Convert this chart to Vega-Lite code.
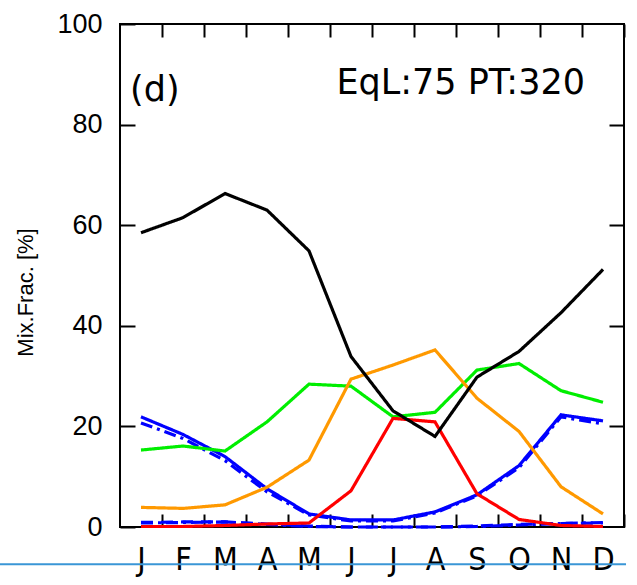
{
  "$schema": "https://vega.github.io/schema/vega-lite/v6.json",
  "autosize": "none",
  "width": 504,
  "height": 503,
  "padding": {"left": 120, "top": 24, "right": 13, "bottom": 58},
  "config": {
    "view": {"stroke": "black", "strokeWidth": 2},
    "font": "Liberation Sans",
    "axis": {"grid": false, "domain": false, "tickColor": "black", "tickWidth": 2, "labelColor": "black", "titleColor": "black"}
  },
  "datasets": {
    "series": [
      {"month": 1, "value": 0.9, "series": "blue_lo_dash"},
      {"month": 2, "value": 1.0, "series": "blue_lo_dash"},
      {"month": 3, "value": 1.0, "series": "blue_lo_dash"},
      {"month": 4, "value": 0.6, "series": "blue_lo_dash"},
      {"month": 5, "value": 0.2, "series": "blue_lo_dash"},
      {"month": 6, "value": 0.0, "series": "blue_lo_dash"},
      {"month": 7, "value": 0.0, "series": "blue_lo_dash"},
      {"month": 8, "value": 0.0, "series": "blue_lo_dash"},
      {"month": 9, "value": 0.2, "series": "blue_lo_dash"},
      {"month": 10, "value": 0.5, "series": "blue_lo_dash"},
      {"month": 11, "value": 0.7, "series": "blue_lo_dash"},
      {"month": 12, "value": 0.8, "series": "blue_lo_dash"},
      {"month": 1, "value": 0.8, "series": "blue_lo_dashdot"},
      {"month": 2, "value": 0.9, "series": "blue_lo_dashdot"},
      {"month": 3, "value": 1.0, "series": "blue_lo_dashdot"},
      {"month": 4, "value": 0.5, "series": "blue_lo_dashdot"},
      {"month": 5, "value": 0.1, "series": "blue_lo_dashdot"},
      {"month": 6, "value": 0.0, "series": "blue_lo_dashdot"},
      {"month": 7, "value": 0.0, "series": "blue_lo_dashdot"},
      {"month": 8, "value": 0.0, "series": "blue_lo_dashdot"},
      {"month": 9, "value": 0.1, "series": "blue_lo_dashdot"},
      {"month": 10, "value": 0.4, "series": "blue_lo_dashdot"},
      {"month": 11, "value": 0.7, "series": "blue_lo_dashdot"},
      {"month": 12, "value": 0.9, "series": "blue_lo_dashdot"},
      {"month": 1, "value": 20.7, "series": "blue_hi_dashdot"},
      {"month": 2, "value": 17.6, "series": "blue_hi_dashdot"},
      {"month": 3, "value": 13.2, "series": "blue_hi_dashdot"},
      {"month": 4, "value": 7.0, "series": "blue_hi_dashdot"},
      {"month": 5, "value": 2.4, "series": "blue_hi_dashdot"},
      {"month": 6, "value": 1.2, "series": "blue_hi_dashdot"},
      {"month": 7, "value": 1.2, "series": "blue_hi_dashdot"},
      {"month": 8, "value": 2.8, "series": "blue_hi_dashdot"},
      {"month": 9, "value": 6.2, "series": "blue_hi_dashdot"},
      {"month": 10, "value": 11.8, "series": "blue_hi_dashdot"},
      {"month": 11, "value": 21.9, "series": "blue_hi_dashdot"},
      {"month": 12, "value": 20.5, "series": "blue_hi_dashdot"},
      {"month": 1, "value": 21.9, "series": "blue_hi"},
      {"month": 2, "value": 18.4, "series": "blue_hi"},
      {"month": 3, "value": 14.0, "series": "blue_hi"},
      {"month": 4, "value": 7.6, "series": "blue_hi"},
      {"month": 5, "value": 2.6, "series": "blue_hi"},
      {"month": 6, "value": 1.4, "series": "blue_hi"},
      {"month": 7, "value": 1.4, "series": "blue_hi"},
      {"month": 8, "value": 3.0, "series": "blue_hi"},
      {"month": 9, "value": 6.4, "series": "blue_hi"},
      {"month": 10, "value": 12.2, "series": "blue_hi"},
      {"month": 11, "value": 22.3, "series": "blue_hi"},
      {"month": 12, "value": 21.1, "series": "blue_hi"},
      {"month": 1, "value": 15.3, "series": "green"},
      {"month": 2, "value": 16.1, "series": "green"},
      {"month": 3, "value": 15.1, "series": "green"},
      {"month": 4, "value": 20.9, "series": "green"},
      {"month": 5, "value": 28.4, "series": "green"},
      {"month": 6, "value": 28.0, "series": "green"},
      {"month": 7, "value": 21.9, "series": "green"},
      {"month": 8, "value": 22.8, "series": "green"},
      {"month": 9, "value": 31.2, "series": "green"},
      {"month": 10, "value": 32.5, "series": "green"},
      {"month": 11, "value": 27.1, "series": "green"},
      {"month": 12, "value": 24.8, "series": "green"},
      {"month": 1, "value": 3.9, "series": "orange"},
      {"month": 2, "value": 3.7, "series": "orange"},
      {"month": 3, "value": 4.4, "series": "orange"},
      {"month": 4, "value": 7.9, "series": "orange"},
      {"month": 5, "value": 13.3, "series": "orange"},
      {"month": 6, "value": 29.4, "series": "orange"},
      {"month": 7, "value": 32.2, "series": "orange"},
      {"month": 8, "value": 35.2, "series": "orange"},
      {"month": 9, "value": 25.6, "series": "orange"},
      {"month": 10, "value": 19.0, "series": "orange"},
      {"month": 11, "value": 8.0, "series": "orange"},
      {"month": 12, "value": 2.6, "series": "orange"},
      {"month": 1, "value": 0.1, "series": "red"},
      {"month": 2, "value": 0.1, "series": "red"},
      {"month": 3, "value": 0.3, "series": "red"},
      {"month": 4, "value": 0.6, "series": "red"},
      {"month": 5, "value": 0.8, "series": "red"},
      {"month": 6, "value": 7.2, "series": "red"},
      {"month": 7, "value": 21.6, "series": "red"},
      {"month": 8, "value": 20.9, "series": "red"},
      {"month": 9, "value": 6.6, "series": "red"},
      {"month": 10, "value": 1.5, "series": "red"},
      {"month": 11, "value": 0.3, "series": "red"},
      {"month": 12, "value": 0.1, "series": "red"},
      {"month": 1, "value": 58.5, "series": "black"},
      {"month": 2, "value": 61.5, "series": "black"},
      {"month": 3, "value": 66.3, "series": "black"},
      {"month": 4, "value": 63.0, "series": "black"},
      {"month": 5, "value": 54.9, "series": "black"},
      {"month": 6, "value": 33.9, "series": "black"},
      {"month": 7, "value": 23.1, "series": "black"},
      {"month": 8, "value": 18.0, "series": "black"},
      {"month": 9, "value": 29.8, "series": "black"},
      {"month": 10, "value": 34.9, "series": "black"},
      {"month": 11, "value": 42.6, "series": "black"},
      {"month": 12, "value": 51.2, "series": "black"}
    ],
    "labels": [
      {"x": 0.74, "y": 84.6, "label": "(d)", "kind": "panel"},
      {"x": 11.57, "y": 86.1, "label": "EqL:75 PT:320", "kind": "info"}
    ],
    "decor": [
      {"xa": -2.357, "xb": 12.548, "y": -7.42}
    ]
  },
  "resolve": {"axis": {"x": "independent", "y": "independent"}},
  "layer": [
    {
      "data": {"name": "series"},
      "mark": {"type": "line", "strokeWidth": 3.2, "clip": false},
      "encoding": {
        "x": {
          "field": "month", "type": "quantitative",
          "scale": {"domain": [0.5, 12.5], "nice": false, "zero": false},
          "axis": {
            "orient": "bottom", "values": [1,2,3,4,5,6,7,8,9,10,11,12],
            "labelExpr": "['J','F','M','A','M','J','J','A','S','O','N','D'][datum.value-1]",
            "labelFont": "DejaVu Sans Condensed, Liberation Sans", "labelFontSize": 32, "labelPadding": 30,
            "labelOffset": -21,
            "tickSize": -13, "tickOffset": 21, "title": null
          }
        },
        "y": {
          "field": "value", "type": "quantitative",
          "scale": {"domain": [0, 100], "nice": false},
          "axis": {
            "orient": "left", "values": [0,20,40,60,80,100],
            "labelFontSize": 27, "labelPadding": 33, "tickSize": -15,
            "title": "Mix.Frac.  [%]", "titleFontSize": 22, "titleFontWeight": "normal",
            "titleX": -95, "titleY": 268, "titleAngle": -90, "titleAlign": "center", "titleBaseline": "middle"
          }
        },
        "color": {
          "field": "series", "type": "nominal", "legend": null,
          "scale": {
            "domain": ["blue_lo_dash","blue_lo_dashdot","blue_hi_dashdot","blue_hi","green","orange","red","black"],
            "range": ["#0000ff","#0000ff","#0000ff","#0000ff","#00ee00","#ff9900","#ff0000","#000000"]
          }
        },
        "strokeDash": {
          "field": "series", "type": "nominal", "legend": null,
          "scale": {
            "domain": ["blue_lo_dash","blue_lo_dashdot","blue_hi_dashdot","blue_hi","green","orange","red","black"],
            "range": [[12,8],[12,5,3,5],[12,5,3,5],[1,0],[1,0],[1,0],[1,0],[1,0]]
          }
        }
      }
    },
    {
      "data": {"name": "labels"},
      "mark": {"type": "text", "align": "left", "baseline": "alphabetic", "fontSize": 35, "font": "DejaVu Sans", "color": "black"},
      "transform": [{"filter": "datum.kind === 'panel'"}],
      "encoding": {
        "x": {"field": "x", "type": "quantitative", "axis": {"orient": "top", "values": [1,2,3,4,5,6,7,8,9,10,11,12], "labels": false, "tickSize": -13, "tickOffset": 21, "title": null}},
        "y": {"field": "y", "type": "quantitative", "axis": {"orient": "right", "values": [20,40,60,80], "labels": false, "tickSize": -15, "title": null}},
        "text": {"field": "label"}
      }
    },
    {
      "data": {"name": "labels"},
      "mark": {"type": "text", "align": "right", "baseline": "alphabetic", "fontSize": 35, "font": "DejaVu Sans", "color": "black"},
      "transform": [{"filter": "datum.kind === 'info'"}],
      "encoding": {
        "x": {"field": "x", "type": "quantitative", "axis": null},
        "y": {"field": "y", "type": "quantitative", "axis": null},
        "text": {"field": "label"}
      }
    },
    {
      "data": {"name": "decor"},
      "mark": {"type": "rule", "color": "#3a96d6", "strokeWidth": 2, "clip": false},
      "encoding": {
        "x": {"field": "xa", "type": "quantitative", "axis": null},
        "x2": {"field": "xb"},
        "y": {"field": "y", "type": "quantitative", "axis": null}
      }
    }
  ]
}
